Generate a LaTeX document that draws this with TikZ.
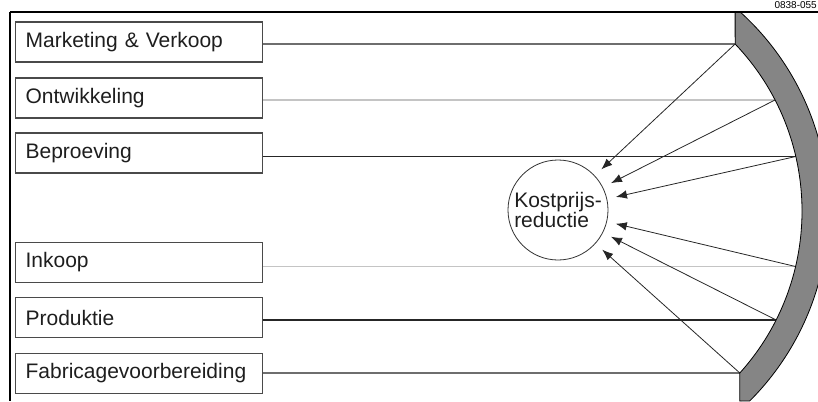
\documentclass[tikz,border=0pt]{standalone}
\usepackage{fontspec}
\setmainfont{Liberation Sans}
\usetikzlibrary{arrows.meta,calc}
\definecolor{bandgray}{HTML}{858585}
\definecolor{boxedge}{HTML}{4A4A4A}
\definecolor{textcol}{HTML}{1E1E1E}
\definecolor{midline}{HTML}{6E6E6E}
\definecolor{lightline}{HTML}{C4C4C4}
\definecolor{darkline}{HTML}{262626}
\begin{document}
\begin{tikzpicture}[x=1pt,y=-1pt,
  boxnode/.style={draw=boxedge, line width=1.2pt, minimum height=40pt,
    text width=227pt, inner xsep=10pt, inner ysep=0pt, align=left, anchor=west,
    font=\fontsize{21}{24}\selectfont, text=textcol},
  hmid/.style={draw=midline, line width=1.3pt},
  hlight/.style={draw=lightline, line width=1.2pt},
  hdark/.style={draw=darkline, line width=1.6pt},
  arr/.style={draw=black!85, line width=0.8pt, -{Latex[length=11pt,width=8.5pt]}, shorten >=9pt},
  frame/.style={draw=black, line width=2.2pt}]
\useasboundingbox (0,0) rectangle (818,401);

% boxes
\node[boxnode] (m) at (15,42) {Marketing \& Verkoop};
\node[boxnode] (o) at (15,98) {Ontwikkeling};
\node[boxnode] (b) at (15,153) {Beproeving};
\node[boxnode] (i) at (15,262.5) {Inkoop};
\node[boxnode] (p) at (15,317.5) {Produktie};
\node[boxnode] (f) at (15,373.5) {Fabricagevoorbereiding};

% central circle
\node[draw=black!80, line width=0.8pt, circle, minimum size=100pt, inner sep=0pt,
      align=left, font=\fontsize{21}{20}\selectfont, text=textcol] (k) at (558,210)
      {Kostprijs-\\reductie};

% points on the inner edge of the band
\coordinate (pm) at (735.1,44);
\coordinate (po) at (775.0,100);
\coordinate (pb) at (795.8,156.5);
\coordinate (pi) at (795.5,266.5);
\coordinate (pp) at (776.1,320);
\coordinate (pf) at (739.8,373);

% horizontal connectors
\draw[hmid]   (m.east |- pm) -- (pm);
\draw[hlight] (o.east |- po) -- (po);
\draw[hdark]  (b.east |- pb) -- (pb);
\draw[hlight] (i.east |- pi) -- (pi);
\draw[hdark]  (p.east |- pp) -- (pp);
\draw[hmid]   (f.east |- pf) -- (pf);

% arrows to the circle
\draw[arr] (pm) -- (k);
\draw[arr] (po) -- (k);
\draw[arr] (pb) -- (k);
\draw[arr] (pi) -- (k);
\draw[arr] (pp) -- (k);
\draw[arr] (pf) -- (k);

% grey band
\filldraw[fill=bandgray, draw=black, line width=0.8pt]
  (735.1,12) -- (740.2,12) arc[start angle=47.83, end angle=-45.04, radius=268.5pt]
  -- (739.8,401) -- (739.8,373) arc[start angle=-42.02, end angle=43.64, radius=242pt]
  -- cycle;

% frame
\draw[frame] (10,12) -- (818,12);
\draw[frame] (10,12) -- (10,401);

% reference code
\node[anchor=base east, inner sep=0pt, font=\fontsize{10}{10}\selectfont] (code) at (817,8.5) {0838-055};
\end{tikzpicture}
\end{document}
